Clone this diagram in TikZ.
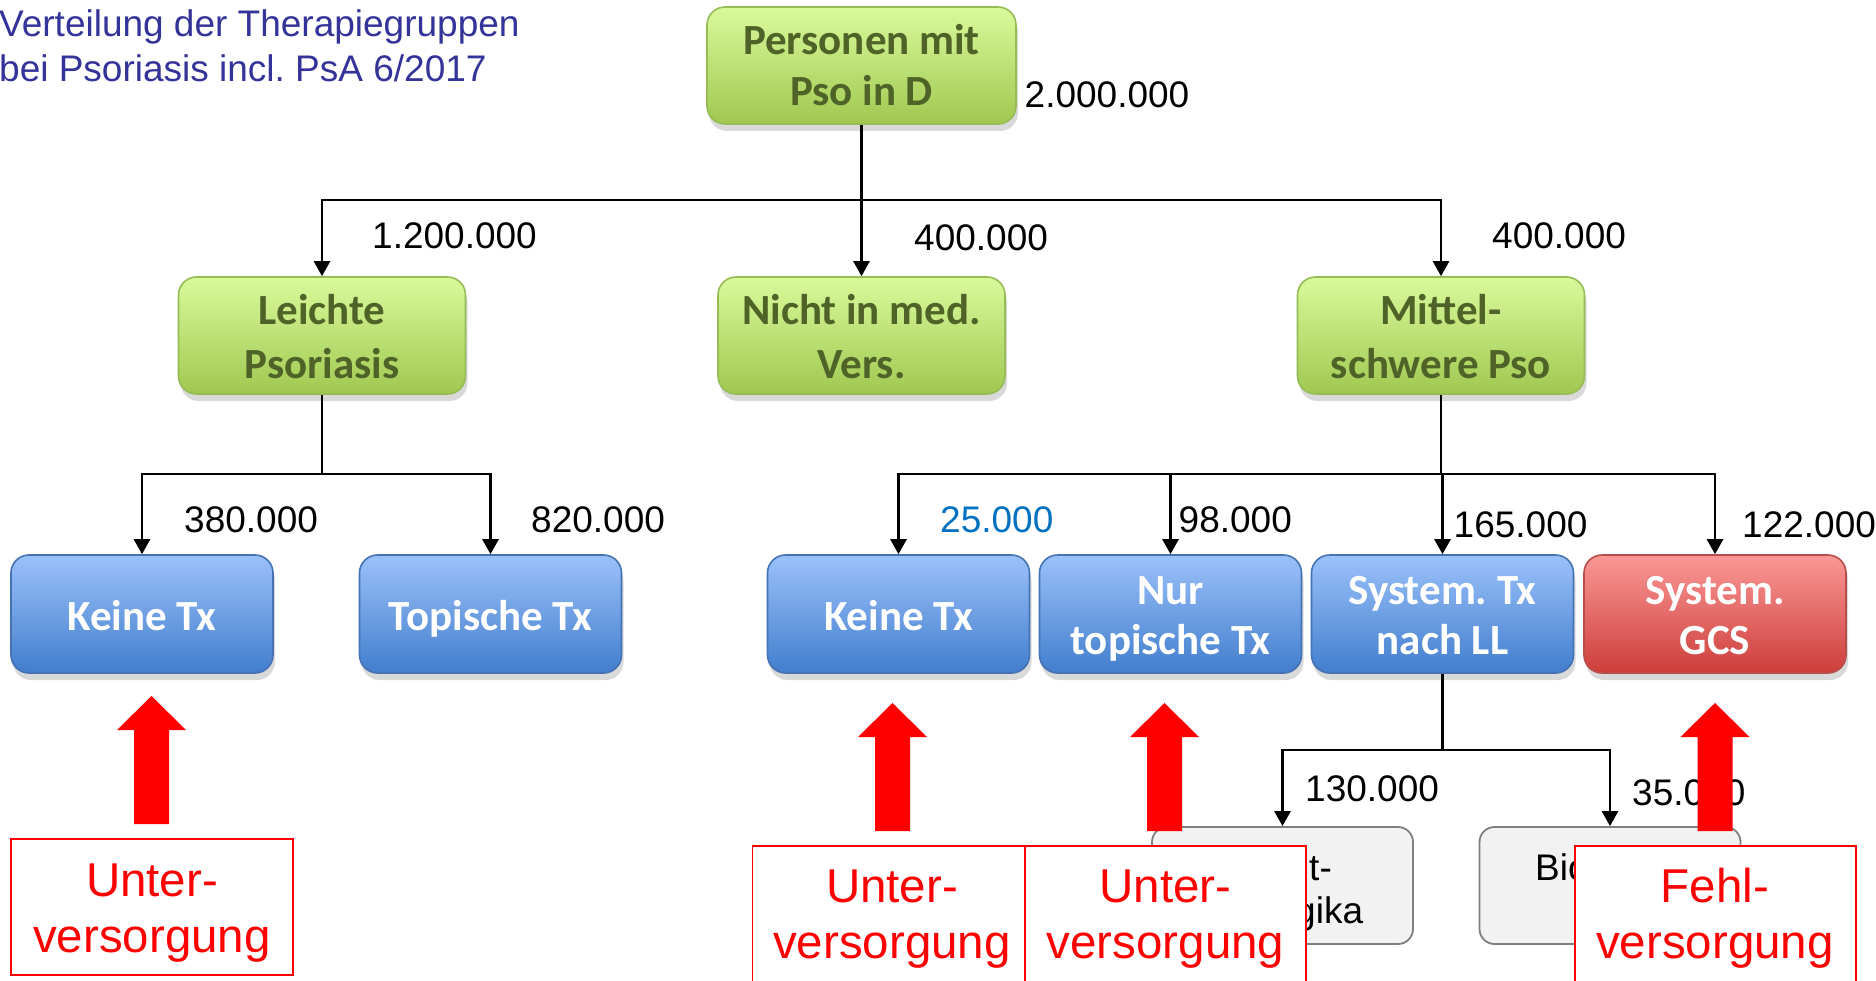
\documentclass[tikz,border=0pt]{standalone}
\usepackage{fontspec}
\setmainfont{Liberation Sans}
\newfontfamily\boxfont{Carlito}
\usetikzlibrary{arrows.meta,shadows}
\frenchspacing

\definecolor{gtop}{RGB}{217,250,155}
\definecolor{gbot}{RGB}{160,200,80}
\definecolor{gbord}{RGB}{150,188,85}
\definecolor{gtxt}{RGB}{79,98,40}
\definecolor{btop}{RGB}{155,193,250}
\definecolor{bbot}{RGB}{66,126,205}
\definecolor{bbord}{RGB}{68,114,180}
\definecolor{rtop}{RGB}{250,152,150}
\definecolor{rbot}{RGB}{205,62,58}
\definecolor{rbord}{RGB}{185,77,74}
\definecolor{greyfill}{RGB}{242,242,242}
\definecolor{greybord}{RGB}{127,127,127}
\definecolor{titleblue}{RGB}{51,51,153}
\definecolor{numblue}{RGB}{0,112,192}

\tikzset{
  fancybox/.style={rounded corners=18pt, line width=1.6pt, inner sep=0pt,
    drop shadow={shadow xshift=2pt,shadow yshift=-7pt,opacity=0.25,fill=black!60}},
  greenbox/.style={fancybox, draw=gbord, top color=gtop, bottom color=gbot,
    minimum width=287pt, minimum height=117pt},
  rootbox/.style={greenbox, minimum width=309pt},
  bluebox/.style={fancybox, draw=bbord, top color=btop, bottom color=bbot,
    minimum width=262pt, minimum height=118pt},
  redbox/.style={fancybox, draw=rbord, top color=rtop, bottom color=rbot,
    minimum width=262pt, minimum height=118pt},
  greybox/.style={rounded corners=15pt, draw=greybord, fill=greyfill, line width=1.8pt,
    minimum width=261pt, minimum height=117pt, inner sep=0pt},
  gtext/.style={font=\boxfont\bfseries\fontsize{43}{50}\selectfont, text=gtxt, anchor=base, inner sep=0pt},
  btext/.style={font=\boxfont\bfseries\fontsize{43}{50}\selectfont, text=white, anchor=base, inner sep=0pt},
  num/.style={font=\fontsize{37}{44}\selectfont, anchor=base west, inner sep=0pt},
  conn/.style={line width=2.6pt, -{Triangle[width=16pt,length=15pt]}},
  redlab/.style={draw=red, line width=1.6pt, fill=white, minimum height=136pt, inner sep=0pt},
  redtext/.style={font=\fontsize{47.5}{56}\selectfont, text=red, anchor=base, inner sep=0pt},
  titletext/.style={font=\fontsize{37}{45}\selectfont, text=titleblue, anchor=base west, inner sep=0pt},
}

\begin{document}
\begin{tikzpicture}[x=1pt,y=-1pt]
\useasboundingbox (0,0) rectangle (1876,981);
\clip (0,0) rectangle (1876,981);

% title
\node[titletext] (t1) at (-1,37) {Verteilung der Therapiegruppen};
\node[titletext] (t2) at (-1,82) {bei Psoriasis incl. PsA 6/2017};

% boxes
\node[rootbox] (root) at (861.5,65.5) {};
\node[greenbox] (leichte) at (322,335.5) {};
\node[greenbox] (nicht) at (861.5,335.5) {};
\node[greenbox] (mittel) at (1441,335.5) {};

\node[bluebox] (keine1) at (142,614) {};
\node[bluebox] (topisch) at (490.5,614) {};
\node[bluebox] (keine2) at (898.5,614) {};
\node[bluebox] (nur) at (1170.5,614) {};
\node[bluebox] (systx) at (1442.5,614) {};
\node[redbox] (gcs) at (1715,614) {};

\node[greybox] (grey1) at (1282.5,885.5) {};
\node[greybox] (grey2) at (1610,885.5) {};

% connectors
\coordinate (bus1) at (0,200);
\coordinate (bus2) at (0,474);
\coordinate (bus3) at (0,750);
\draw[conn] (root.south) -- (root.south |- bus1) -| (leichte.north);
\draw[conn] (root.south |- bus1) -| (mittel.north);
\draw[conn] (root.south) -- (nicht.north);

\draw[conn] (leichte.south) -- (leichte.south |- bus2) -| (keine1.north);
\draw[conn] (leichte.south |- bus2) -| (topisch.north);

\draw[conn] (mittel.south) -- (mittel.south |- bus2) -| (keine2.north);
\draw[conn] (mittel.south |- bus2) -| (nur.north);
\draw[conn] (mittel.south |- bus2) -| (systx.north);
\draw[conn] (mittel.south |- bus2) -| (gcs.north);

\draw[conn] (systx.south) -- (systx.south |- bus3) -| (grey1.north);
\draw[conn] (systx.south |- bus3) -| (grey2.north);

% box texts
\node[gtext] (rt1) at (861.5,55) {Personen mit};
\node[gtext] (rt2) at (861.5,106) {Pso in D};
\node[gtext] (lt1) at (322,325) {Leichte};
\node[gtext] (lt2) at (322,378) {Psoriasis};
\node[gtext] (nt1) at (861.5,325) {Nicht in med.};
\node[gtext] (nt2) at (861.5,378) {Vers.};
\node[gtext] (mt1) at (1441,325) {Mittel-};
\node[gtext] (mt2) at (1441,378) {schwere Pso};

\node[btext] (k1t) at (142,630) {Keine Tx};
\node[btext] (tpt) at (490.5,630) {Topische Tx};
\node[btext] (k2t) at (898.5,630) {Keine Tx};
\node[btext] (nut1) at (1170.5,604) {Nur};
\node[btext] (nut2) at (1170.5,654) {topische Tx};
\node[btext] (st1) at (1442.5,604) {System. Tx};
\node[btext] (st2) at (1442.5,654) {nach LL};
\node[btext] (gt1) at (1715,604) {System.};
\node[btext] (gt2) at (1715,654) {GCS};

% grey box texts (partly covered)
\node[num] (g1a) at (1309,880) {t-};
\node[num] (g1b) at (1295,923) {gika};
\node[num] (g2a) at (1535,880) {Bio};

% numbers
\node[num] (n0) at (1024.5,108) {2.000.000};
\node[num] (n1) at (372,249) {1.200.000};
\node[num] (n2) at (914,251) {400.000};
\node[num] (n3) at (1492,249) {400.000};
\node[num] (n4) at (184,532) {380.000};
\node[num] (n5) at (531,532) {820.000};
\node[num, text=numblue] (n6) at (940,532) {25.000};
\node[num] (n7) at (1178.5,532) {98.000};
\node[num] (n8) at (1453.5,537) {165.000};
\node[num] (n9) at (1742,537) {122.000};
\node[num] (n10) at (1305,801) {130.000};
\node[num] (n11) at (1632,805) {35.000};

% red block arrows
\foreach \cx/\tip in {151.5/696, 892.5/703, 1164.5/703, 1715/703}{
  \fill[red] ({\cx-17.5},{\tip+128}) -- ({\cx-17.5},{\tip+34}) -- ({\cx-34.5},{\tip+34})
    -- (\cx,\tip) -- ({\cx+34.5},{\tip+34}) -- ({\cx+17.5},{\tip+34})
    -- ({\cx+17.5},{\tip+128}) -- cycle;
}

% red label boxes
\node[redlab, minimum width=282pt] (u1) at (152,907) {};
\node[redlab, minimum width=272pt] (u2) at (888.5,914) {};
\node[redlab, minimum width=281pt] (u3) at (1165.5,914) {};
\node[redlab, minimum width=281pt] (fehl) at (1715.5,914) {};

\node[redtext] (u1a) at (152,896) {Unter-};
\node[redtext] (u1b) at (152,952) {versorgung};
\node[redtext] (u2a) at (892,902) {Unter-};
\node[redtext] (u2b) at (892,958) {versorgung};
\node[redtext] (u3a) at (1165.5,902) {Unter-};
\node[redtext] (u3b) at (1165.5,958) {versorgung};
\node[redtext] (fa) at (1715,902) {Fehl-};
\node[redtext] (fb) at (1715,958) {versorgung};
\end{tikzpicture}
\end{document}
